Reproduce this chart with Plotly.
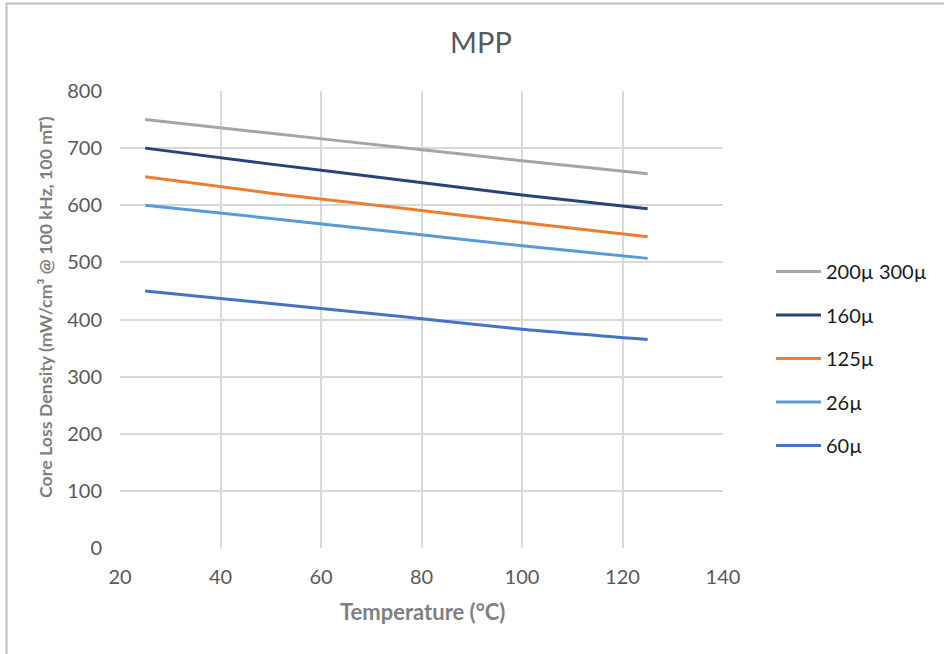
import plotly.graph_objects as go

temps = [25, 50, 75, 100, 125]
series_names = ["200µ 300µ", "160µ", "125µ", "26µ", "60µ"]
s_200_300 = [750, 726, 702, 678, 655]
s_160 = [700, 672, 645, 618, 594]
s_125 = [650, 621, 596, 570, 545]
s_26 = [600, 577, 553, 529, 507]
s_60 = [450, 428, 406, 383, 365]
colors = ["#a5a5a5", "#264478", "#ed7d31", "#5b9bd5", "#4472c4"]
x_ticks = [20, 40, 60, 80, 100, 120, 140]
y_ticks = [0, 100, 200, 300, 400, 500, 600, 700, 800]

FONT = "Lato"
fig = go.Figure()
for i, (name, vals) in enumerate(zip(series_names, [s_200_300, s_160, s_125, s_26, s_60])):
    fig.add_trace(go.Scatter(
        x=temps, y=vals, name=name, mode="lines",
        line=dict(color=colors[i], width=3, shape="spline", smoothing=0.6),
        legendgroup=f"g{i}",
    ))

W, H = 944, 654
L, R, T, B = 120, 723, 91, 548
PW, PH = R - L, B - T
fig.update_layout(
    width=W, height=H,
    margin=dict(l=L, r=W - R, t=T, b=H - B, autoexpand=False),
    paper_bgcolor="white", plot_bgcolor="white",
    font=dict(family=FONT, color="#595959"),
    title=dict(text="MPP", x=481 / W, xanchor="center", y=1 - 43 / H, yanchor="middle",
               font=dict(size=29, color="#595959", family=FONT)),
    xaxis=dict(range=[20, 140], tickvals=x_ticks, showgrid=True, gridcolor="#d9d9d9", gridwidth=1.5,
               zeroline=False, showline=False, tickfont=dict(size=20, color="#595959"),
               ticklabelstandoff=15),
    yaxis=dict(range=[0, 800], tickvals=y_ticks, showgrid=True, gridcolor="#d9d9d9", gridwidth=1.5,
               zeroline=False, showline=False, tickfont=dict(size=20, color="#595959"),
               ticklabelstandoff=17),
    legend=dict(x=(771 - L) / PW, xanchor="left", y=(B - 252) / PH, yanchor="top",
                font=dict(size=20, color="#1a1a1a", family=FONT), traceorder="grouped",
                tracegroupgap=14.5, itemwidth=45, bgcolor="rgba(0,0,0,0)"),
    showlegend=True,
    annotations=[
        dict(text="<b>Temperature (°C)</b>", xref="paper", yref="paper",
             x=(422 - L) / PW, y=(B - 611) / PH, xanchor="center", yanchor="middle",
             showarrow=False, font=dict(size=22, color="#7f7f7f", family=FONT)),
        dict(text="<b>Core Loss Density (mW/cm³ @ 100 kHz, 100 mT)</b>", xref="paper", yref="paper",
             x=(45 - L) / PW, y=(B - 307) / PH, xanchor="center", yanchor="middle", textangle=-90,
             showarrow=False, font=dict(size=17.8, color="#7f7f7f", family=FONT)),
    ],
    shapes=[dict(type="rect", xref="paper", yref="paper",
                 x0=(6.5 - L) / PW, x1=(W + 20 - L) / PW,
                 y0=(B - (H + 20)) / PH, y1=(B - 3.5) / PH,
                 line=dict(color="#bfbfbf", width=2), layer="below")],
)
fig.write_html("out.html")
